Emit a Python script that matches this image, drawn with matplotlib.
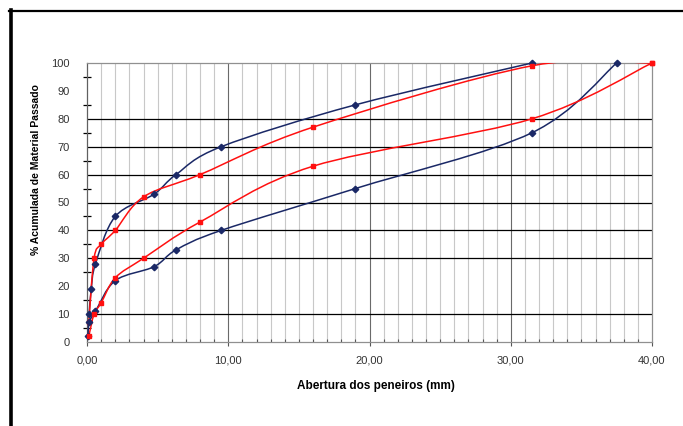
import numpy as np
import matplotlib.pyplot as plt
from matplotlib.path import Path
from matplotlib.patches import PathPatch
from matplotlib.lines import Line2D

plt.rcParams['font.family'] = ['Liberation Sans', 'DejaVu Sans']

# grading curves, sieve opening (mm) vs % passing
blue_upper_x = [0.15, 0.3, 0.6, 2.0, 4.75, 6.3, 9.5, 19.0, 31.5]
blue_upper_y = [10, 19, 28, 45, 53, 60, 70, 85, 100]
blue_lower_x = [0.075, 0.15, 0.6, 2.0, 4.75, 6.3, 9.5, 19.0, 31.5, 37.5]
blue_lower_y = [2, 7, 11, 22, 27, 33, 40, 55, 75, 100]
red_upper_x = [0.125, 0.5, 1.0, 2.0, 4.0, 8.0, 16.0, 31.5, 40.0]
red_upper_y = [7, 30, 35, 40, 52, 60, 77, 99, 100]
red_lower_x = [0.125, 0.5, 1.0, 2.0, 4.0, 8.0, 16.0, 31.5, 40.0]
red_lower_y = [2, 10, 14, 23, 30, 43, 63, 80, 100]

x_ticks = [0, 10, 20, 30, 40]
x_ticklabels = ["0,00", "10,00", "20,00", "30,00", "40,00"]
y_ticks = list(range(0, 101, 10))
h_grid = [10, 30, 40, 50, 60, 70, 80]

BLUE = '#1a2866'
RED = '#ff1010'


def smooth_path(xs, ys):
    # excel style smoothed line: cubic bezier through the points
    p = np.column_stack([xs, ys]).astype(float)
    n = len(p)
    verts = [p[0]]
    codes = [Path.MOVETO]
    for i in range(n - 1):
        p0 = p[i - 1] if i > 0 else p[i]
        p3 = p[i + 2] if i + 2 < n else p[i + 1]
        c1 = p[i] + (p[i + 1] - p0) / 6.0
        c2 = p[i + 1] - (p3 - p[i]) / 6.0
        verts += [c1, c2, p[i + 1]]
        codes += [Path.CURVE4] * 3
    return Path(verts, codes)


fig = plt.figure(figsize=(6.83, 4.26), dpi=100)
ax = fig.add_axes([87 / 683, 1 - 342 / 426, 565 / 683, 279 / 426])

ax.set_xlim(0, 40)
ax.set_ylim(0, 100)

# grid
for v in range(1, 40):
    if v % 10:
        ax.axvline(v, color='#c8c8c8', lw=0.8, zorder=0)
for v in (10, 20, 30):
    ax.axvline(v, color='#6a6a6a', lw=0.8, zorder=0)
for v in h_grid:
    ax.axhline(v, color='black', lw=0.9, zorder=1)

for xs, ys, col, mk, ms in [(blue_upper_x, blue_upper_y, BLUE, 'D', 3.3),
                            (red_upper_x, red_upper_y, RED, 's', 3.0),
                            (blue_lower_x, blue_lower_y, BLUE, 'D', 3.3),
                            (red_lower_x, red_lower_y, RED, 's', 3.0)]:
    ax.add_patch(PathPatch(smooth_path(xs, ys), fill=False, edgecolor=col,
                           lw=1.1, zorder=3))
    ax.plot(xs, ys, linestyle='none', marker=mk, ms=ms, color=col,
            clip_on=False, zorder=4)

ax.set_xticks(x_ticks)
ax.set_xticklabels(x_ticklabels)
ax.set_xticks(np.arange(0, 41, 1), minor=True)
ax.set_yticks(y_ticks)
ax.set_yticks(np.arange(5, 100, 10), minor=True)
ax.tick_params(axis='x', which='major', direction='out', length=3,
               width=0.8, color='#555555', labelsize=8, labelcolor='#333333', pad=7)
ax.tick_params(axis='x', which='minor', direction='in', length=2,
               width=0.8, color='#555555')
ax.tick_params(axis='y', which='major', length=0, labelsize=8,
               labelcolor='#333333', pad=12.5)
ax.tick_params(axis='y', which='minor', direction='inout', length=6,
               width=0.9, color='black')

for s in ['top', 'right', 'bottom']:
    ax.spines[s].set_color('#909090')
    ax.spines[s].set_linewidth(0.9)
ax.spines['left'].set_color('#606060')
ax.spines['left'].set_linewidth(0.9)

fig.text(376 / 683, 1 - 386 / 426, "Abertura dos peneiros (mm)", fontsize=8.5,
         fontweight='bold', ha='center', va='center')
fig.text(36 / 683, 1 - 170 / 426, "% Acumulada de Material Passado", fontsize=7.5,
         fontweight='bold', ha='center', va='center', rotation=90)

# outer chart frame (cut off at right and bottom)
fig.add_artist(Line2D([9 / 683, 1], [1 - 10.5 / 426] * 2, color='black', lw=1.6))
fig.add_artist(Line2D([11 / 683] * 2, [1 - 9.5 / 426, 0], color='black', lw=2.6))

fig.savefig('out.png', dpi=100)
